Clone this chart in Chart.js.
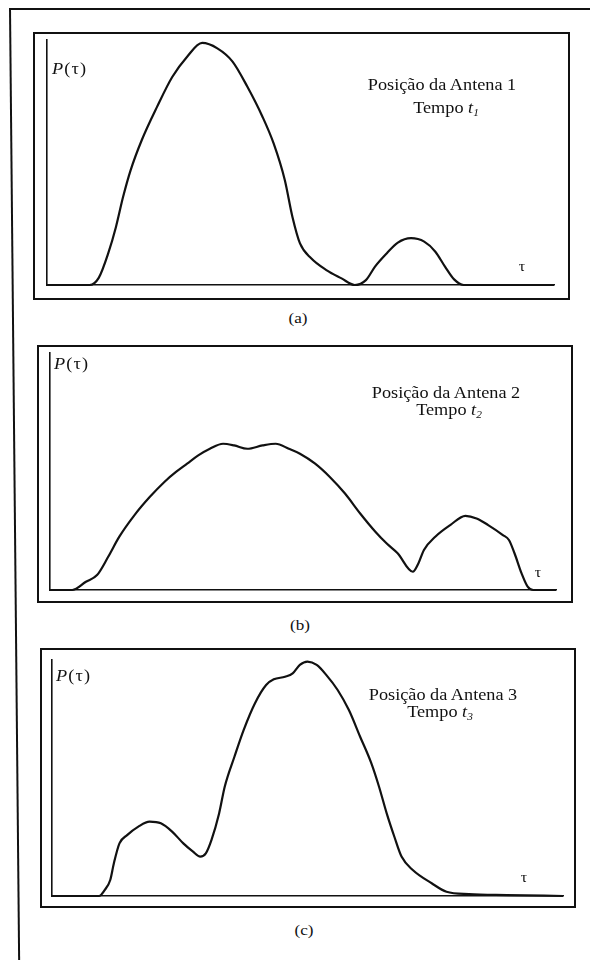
<!DOCTYPE html>
<html>
<head>
<meta charset="utf-8">
<script src="https://cdn.jsdelivr.net/npm/chart.js@4.4.1/dist/chart.umd.min.js"></script>
<style>
  html, body { margin: 0; padding: 0; background: #fff; }
  body {
    width: 590px; height: 960px; position: relative; overflow: hidden;
    font-family: "Liberation Serif", "Times New Roman", serif; color: #111;
  }
  .frame { position: absolute; border: 2.5px solid #111; box-sizing: border-box; }
  .plot { position: absolute; }
  .txt { position: absolute; white-space: nowrap; line-height: 1; transform: translate(-50%, -50%) scaleX(1.14); }
  .ylab { position: absolute; white-space: nowrap; line-height: 1; font-size: 16px; letter-spacing: 1px;
          transform-origin: 0 50%; transform: translateY(-50%) scaleX(1.14); }
  .ann { font-size: 16px; }
  .tag { font-size: 15px; }
  .xlab { font-size: 14px; }
  sub { font-size: 10px; vertical-align: -3px; font-style: italic; }
  .page-top { position: absolute; left: 9px; top: 8px; width: 581px; height: 0; border-top: 2.5px solid #111; }
  .page-left { position: absolute; left: 9px; top: 8px; width: 0; height: 960px; border-left: 2.5px solid #111;
               transform-origin: 0 0; transform: rotate(-0.55deg); }
</style>
</head>
<body>
<div class="page-top"></div>
<div class="page-left"></div>

<script>
// Delay axis (τ, 0–100 across the baseline) and received power P(τ) (0–100 up the axis)
const tauA   = [0, 8.4, 10.2, 12.1, 13.6, 15.0, 16.5, 18.7, 21.7, 24.7, 27.6, 30.6, 33.6, 36.6, 39.5, 42.5, 44.7, 46.9, 48.4, 49.9, 52.1, 55.1, 58.1, 60.7, 62.9, 64.7, 67.0, 69.2, 71.8, 74.4, 76.6, 78.5, 80.3, 82.2, 100];
const powerA = [0, 0, 2.9, 13.1, 23.7, 35.9, 46.9, 59.2, 72.7, 84.9, 93.1, 98.8, 96.6, 91.2, 81.0, 68.7, 57.8, 42.9, 27.9, 17.0, 10.9, 6.1, 2.7, 0, 2.0, 7.5, 12.9, 17.3, 19.1, 17.7, 13.6, 7.5, 2.3, 0, 0];

const tauB   = [0, 4.4, 7.1, 9.3, 11.5, 13.7, 16.7, 19.7, 22.6, 24.9, 27.1, 29.3, 31.6, 34.2, 36.4, 39.0, 42.0, 44.6, 47.2, 49.4, 52.4, 55.3, 58.3, 61.3, 64.3, 66.5, 68.7, 71.7, 72.8, 73.9, 76.2, 79.1, 82.1, 84.3, 86.6, 89.5, 90.7, 91.8, 93.2, 94.4, 95.5, 100];
const powerB = [0, 0, 3.5, 6.3, 14.0, 22.5, 31.6, 39.2, 45.6, 49.8, 53.3, 56.8, 59.6, 61.7, 61.0, 59.6, 61.0, 61.7, 59.6, 57.5, 53.3, 47.7, 40.7, 32.3, 24.6, 19.7, 15.5, 7.7, 11.2, 16.9, 22.6, 27.4, 31.3, 30.2, 27.4, 23.2, 21.1, 15.5, 7.0, 1.4, 0, 0];

const tauC   = [0, 9.2, 10.3, 11.4, 12.1, 13.2, 14.7, 16.9, 19.1, 21.3, 23.5, 25.7, 27.6, 29.0, 30.1, 31.2, 32.7, 33.8, 35.7, 37.5, 39.7, 41.9, 43.4, 45.6, 47.1, 48.5, 50.0, 51.8, 53.7, 55.9, 58.1, 60.3, 62.5, 64.0, 65.5, 67.0, 68.4, 70.6, 74.3, 77.2, 81.6, 89.0, 100];
const powerC = [0, 0, 2.5, 6.8, 13.8, 22.3, 25.8, 29.4, 31.5, 30.8, 27.3, 22.3, 18.8, 16.7, 18.1, 23.7, 35.0, 46.3, 59.0, 70.3, 81.6, 89.4, 91.8, 92.9, 94.3, 97.9, 99.3, 97.9, 93.6, 87.3, 78.8, 67.5, 56.2, 46.3, 35.0, 25.1, 16.7, 11.0, 5.4, 1.8, 0.8, 0.4, 0];

// Text shown in each panel
const panelTags    = ['(a)', '(b)', '(c)'];
const antennaLines = ['Posição da Antena 1', 'Posição da Antena 2', 'Posição da Antena 3'];
const timeIndices  = ['1', '2', '3'];
const yAxisName = 'P';
const xAxisName = 'τ';

// Page geometry of each panel
const panelLayout = [
  { frame: { l: 33, t: 32, r: 570, b: 300 }, axes: { x0: 47, x1: 554, top: 40, base: 285 },
    ylab: { x: 52, y: 69 }, ann: { x: 442, y: 85 }, time: { x: 446, y: 109 }, xlab: { x: 522, y: 267 }, tag: { x: 298, y: 318 } },
  { frame: { l: 37, t: 345, r: 573, b: 603 }, axes: { x0: 50, x1: 556, top: 353, base: 590 },
    ylab: { x: 54, y: 364 }, ann: { x: 446, y: 393 }, time: { x: 449, y: 411 }, xlab: { x: 538, y: 573 }, tag: { x: 300, y: 625 } },
  { frame: { l: 40, t: 648, r: 576, b: 908 }, axes: { x0: 52, x1: 563, top: 660, base: 896 },
    ylab: { x: 56, y: 676 }, ann: { x: 443, y: 695 }, time: { x: 440, y: 713 }, xlab: { x: 524, y: 878 }, tag: { x: 304, y: 930 } }
];

const series = [[tauA, powerA], [tauB, powerB], [tauC, powerC]];
const PAD = 4;

function addText(cls, x, y, html) {
  const el = document.createElement('div');
  el.className = cls;
  el.style.left = x + 'px';
  el.style.top = y + 'px';
  el.innerHTML = html;
  document.body.appendChild(el);
  return el;
}

function axisOpts() {
  return {
    type: 'linear', min: 0, max: 100,
    ticks: { display: false },
    grid: { display: false, drawTicks: false },
    border: { display: true, color: '#111', width: 1.6 }
  };
}

panelLayout.forEach((lay, i) => {
  const f = lay.frame;
  const frame = document.createElement('div');
  frame.className = 'frame';
  frame.style.left = f.l + 'px';
  frame.style.top = f.t + 'px';
  frame.style.width = (f.r - f.l) + 'px';
  frame.style.height = (f.b - f.t) + 'px';
  document.body.appendChild(frame);

  const a = lay.axes;
  const canvas = document.createElement('canvas');
  canvas.className = 'plot';
  const w = (a.x1 - a.x0) + 2 * PAD;
  const h = (a.base - a.top) + 2 * PAD;
  canvas.width = w; canvas.height = h;
  canvas.style.width = w + 'px'; canvas.style.height = h + 'px';
  canvas.style.left = (a.x0 - PAD) + 'px';
  canvas.style.top = (a.top - PAD) + 'px';
  document.body.appendChild(canvas);

  const [tau, power] = series[i];
  new Chart(canvas, {
    type: 'line',
    data: {
      datasets: [{
        data: tau.map((t, k) => ({ x: t, y: power[k] })),
        borderColor: '#111',
        borderWidth: 2.2,
        pointRadius: 0,
        fill: false,
        cubicInterpolationMode: 'monotone',
        clip: false
      }]
    },
    options: {
      responsive: false,
      animation: false,
      events: [],
      layout: { padding: PAD },
      plugins: { legend: { display: false }, tooltip: { enabled: false } },
      scales: { x: axisOpts(), y: axisOpts() }
    }
  });

  addText('ylab', lay.ylab.x, lay.ylab.y, '<i>' + yAxisName + '</i>(' + xAxisName + ')');
  addText('txt ann', lay.ann.x, lay.ann.y, antennaLines[i]);
  addText('txt ann', lay.time.x, lay.time.y, 'Tempo <i>t</i><sub>' + timeIndices[i] + '</sub>');
  addText('txt xlab', lay.xlab.x, lay.xlab.y, xAxisName);
  addText('txt tag', lay.tag.x, lay.tag.y, panelTags[i]);
});
</script>
</body>
</html>
